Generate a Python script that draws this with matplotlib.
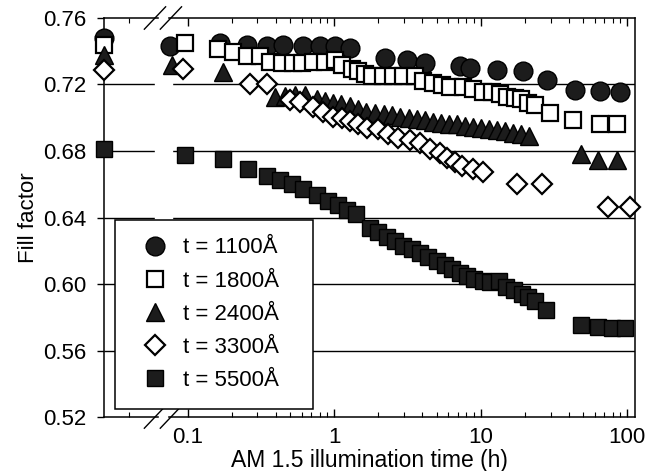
import matplotlib.pyplot as plt
from matplotlib.lines import Line2D
from matplotlib.patches import Rectangle
from matplotlib.ticker import FixedLocator, NullFormatter

plt.rcParams['font.family'] = ['Liberation Sans', 'DejaVu Sans']

labels = ['t = 1100Å', 't = 1800Å', 't = 2400Å', 't = 3300Å', 't = 5500Å']

# fill factor before illumination (drawn on the left axis, left of the break)
ff_initial = [0.7477, 0.744, 0.738, 0.729, 0.6815]

h1100 = [0.076, 0.167, 0.255, 0.349, 0.449, 0.614, 0.80, 1.02, 1.29, 2.23, 3.15, 4.18,
         7.25, 8.48, 13.0, 19.5, 28.4, 44.2, 65.4, 89.6]
ff1100 = [0.743, 0.745, 0.744, 0.743, 0.744, 0.743, 0.743, 0.743, 0.742, 0.736, 0.735, 0.733,
          0.731, 0.730, 0.7285, 0.728, 0.723, 0.7165, 0.716, 0.7155]

h1800 = [0.096, 0.161, 0.204, 0.255, 0.313, 0.366, 0.442, 0.525, 0.605, 0.719, 0.868, 1.02,
         1.13, 1.33, 1.46, 1.63, 1.82, 2.16, 2.53, 2.96, 3.57, 4.05, 4.74, 5.46, 6.19, 7.60,
         8.89, 10.4, 12.0, 13.6, 15.2, 17.2, 18.9, 21.1, 23.5, 29.8, 42.8, 65.4, 85.5]
ff1800 = [0.7447, 0.7414, 0.7395, 0.737, 0.7369, 0.7338, 0.7331, 0.733, 0.733, 0.7335, 0.7334,
          0.7346, 0.7315, 0.7296, 0.7284, 0.7265, 0.7252, 0.7252, 0.725, 0.725, 0.7249, 0.7219,
          0.7206, 0.7199, 0.7186, 0.7186, 0.7173, 0.7154, 0.7153, 0.714, 0.7122, 0.7121, 0.711,
          0.709, 0.7075, 0.7029, 0.6985, 0.6965, 0.6964]

h2400 = [0.078, 0.175, 0.396, 0.463, 0.542, 0.634, 0.766, 0.868, 0.984, 1.12, 1.29, 1.46,
         1.65, 1.91, 2.19, 2.49, 2.82, 3.25, 3.68, 4.18, 4.74, 5.37, 6.09, 6.91, 7.84, 8.89,
         10.1, 11.4, 13.0, 14.7, 16.7, 18.9, 21.4, 48.5, 63.5, 85.5]
ff2400 = [0.7315, 0.7275, 0.7127, 0.7133, 0.7138, 0.7137, 0.7112, 0.71, 0.7087, 0.708, 0.7068,
          0.7055, 0.7036, 0.703, 0.7023, 0.7017, 0.7004, 0.6997, 0.6991, 0.6984, 0.6977, 0.6971,
          0.6964, 0.6964, 0.6951, 0.6944, 0.6938, 0.6931, 0.6925, 0.6918, 0.6911, 0.6905, 0.6892,
          0.678, 0.6748, 0.6747]

h3300 = [0.093, 0.267, 0.349, 0.501, 0.586, 0.719, 0.841, 0.984, 1.13, 1.29, 1.46, 1.68, 1.99,
         2.34, 2.73, 3.30, 3.86, 4.52, 5.29, 5.91, 6.70, 7.48, 8.89, 10.4, 17.8, 26.3, 74.2, 105]
ff3300 = [0.7296, 0.7201, 0.72, 0.7108, 0.7095, 0.7064, 0.7033, 0.7003, 0.6996, 0.6983, 0.6965,
          0.694, 0.6933, 0.6902, 0.6878, 0.6865, 0.6846, 0.6815, 0.679, 0.676, 0.6735, 0.671,
          0.6692, 0.6672, 0.6604, 0.6602, 0.6465, 0.6463]

h5500 = [0.096, 0.175, 0.259, 0.349, 0.428, 0.517, 0.614, 0.766, 0.91, 1.06, 1.23, 1.40, 1.76,
         2.00, 2.30, 2.60, 2.96, 3.40, 3.86, 4.38, 5.03, 5.69, 6.34, 7.19, 8.01, 9.07, 10.3,
         11.6, 13.4, 14.8, 16.8, 19.0, 21.1, 23.5, 27.8, 48.5, 63.5, 78.7, 96.8]
ff5500 = [0.6773, 0.6752, 0.669, 0.6647, 0.6627, 0.6603, 0.6572, 0.6535, 0.6497, 0.6473, 0.6448,
          0.6423, 0.6338, 0.6313, 0.6283, 0.6258, 0.6227, 0.6209, 0.6184, 0.6165, 0.6141, 0.6116,
          0.6091, 0.6067, 0.6048, 0.6029, 0.6017, 0.601, 0.6016, 0.598, 0.5961, 0.5942, 0.5924,
          0.5899, 0.5844, 0.5751, 0.5744, 0.5737, 0.5736]

y_ticks = [0.52, 0.56, 0.60, 0.64, 0.68, 0.72, 0.76]
x_ticks = [0.1, 1, 10, 100]
x_ticklabels = ['0.1', '1', '10', '100']

DARK = '#1c1c1c'
styles = [
    dict(marker='o', ms=13.5, mfc=DARK, mec='black', mew=1.0),
    dict(marker='s', ms=11.5, mfc='white', mec='black', mew=1.6),
    dict(marker='^', ms=12.5, mfc=DARK, mec='black', mew=1.0),
    dict(marker='D', ms=10.5, mfc='white', mec='black', mew=1.6),
    dict(marker='s', ms=12.0, mfc=DARK, mec='black', mew=1.0),
]


def plot_fill_factor():
    fig = plt.figure(figsize=(6.48, 4.71), dpi=100)
    ax = fig.add_axes([0.1605, 0.1146, 0.8194, 0.8472])
    ax.set_xscale('log')
    xmin, xmax = 0.0269, 113
    ax.set_xlim(xmin, xmax)
    ax.set_ylim(0.52, 0.76)

    # horizontal grid, broken where the axis break is
    ax.hlines(y_ticks[1:-1], xmin, xmax, color='black', lw=1.0, zorder=1)
    ax.add_patch(Rectangle((0.096, 0), 0.032, 1, transform=ax.transAxes,
                           color='white', zorder=1.5))
    for yb in (0, 1):
        ax.add_patch(Rectangle((0.104, yb - 0.01), 0.014, 0.02, transform=ax.transAxes,
                               color='white', zorder=3, clip_on=False))
        for xc in (0.096, 0.126):
            ax.add_line(Line2D([xc - 0.02, xc + 0.02], [yb - 0.028, yb + 0.028],
                               transform=ax.transAxes, color='black', lw=1.0,
                               clip_on=False, zorder=4))

    series = [(h1100, ff1100), (h1800, ff1800), (h2400, ff2400),
              (h3300, ff3300), (h5500, ff5500)]
    handles = []
    for (h, ff), f0, st, lab in zip(series, ff_initial, styles, labels):
        line, = ax.plot(h, ff, ls='none', clip_on=False, zorder=5, label=lab, **st)
        ax.plot([xmin], [f0], ls='none', clip_on=False, zorder=5, **st)
        handles.append(line)

    for side in ax.spines.values():
        side.set_linewidth(1.1)

    ax.set_yticks(y_ticks)
    ax.set_yticklabels(['%.2f' % v for v in y_ticks])
    ax.tick_params(axis='y', direction='out', length=5, width=1, pad=8,
                   labelsize=16, right=False)

    ax.xaxis.set_major_locator(FixedLocator(x_ticks))
    minors = [0.04] + [k * 10.0 ** d for d in (-1, 0, 1) for k in range(2, 10)]
    ax.xaxis.set_minor_locator(FixedLocator(minors))
    ax.xaxis.set_minor_formatter(NullFormatter())
    ax.set_xticklabels(x_ticklabels)
    ax.tick_params(axis='x', which='major', direction='in', length=6, width=1,
                   top=True, pad=7, labelsize=16)
    ax.tick_params(axis='x', which='minor', direction='in', length=3.5, width=0.8,
                   top=True)

    ax.set_xlabel('AM 1.5 illumination time (h)', fontsize=16.5, labelpad=1)
    ax.set_ylabel('Fill factor', fontsize=16, labelpad=3)

    leg = ax.legend(handles=handles, loc='lower left',
                    bbox_to_anchor=(0.021, 0.02, 0.373, 0.47), mode='expand',
                    fontsize=16, frameon=True, fancybox=False, framealpha=1,
                    edgecolor='black', borderpad=0.8, handlelength=2.0,
                    handletextpad=0.25, labelspacing=0.55, borderaxespad=0,
                    numpoints=1)
    leg.get_frame().set_linewidth(1.1)
    leg.set_zorder(6)

    fig.savefig('out.png', dpi=100)


def main():
    plot_fill_factor()


if __name__ == "__main__":
    main()
